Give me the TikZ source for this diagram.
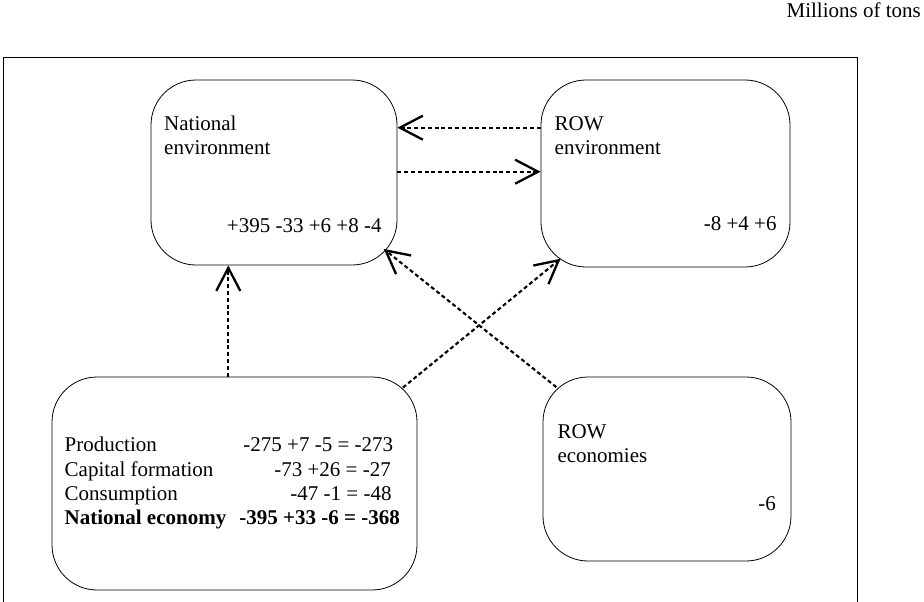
\documentclass[tikz,border=0pt]{standalone}
\usepackage{fontspec}
\setmainfont{Liberation Serif}
\usetikzlibrary{arrows.meta,calc}
\begin{document}
\begin{tikzpicture}[x=1pt,y=-1pt,
  box/.style={draw, line width=0.8pt, rounded corners=45pt, inner sep=0pt},
  lbl/.style={inner sep=0pt, font=\fontsize{21}{24}\selectfont},
  blbl/.style={lbl, font=\fontsize{21}{24}\selectfont\bfseries},
  flow/.style={line width=2.1pt, dash pattern=on 4pt off 2.8pt,
    -{Straight Barb[length=23pt,width=24pt,line width=2.3pt]}},
]
\useasboundingbox (0,0) rectangle (924,602);
\fill[white] (0,0) rectangle (924,602);

% unit caption and outer frame (open at the bottom)
\node[lbl, anchor=base east] (unit) at (921,18) {Millions of tons};
\draw[line width=0.9pt] (3.5,602) -- (3.5,57) -- (857.5,57) -- (857.5,602);

% the four sectors
\node[box, minimum width=246pt, minimum height=185pt] (nenv) at (274,172.5) {};
\node[box, minimum width=249pt, minimum height=187pt] (renv) at (665.5,173.5) {};
\node[box, minimum width=248pt, minimum height=184pt] (reco) at (667,469) {};
\node[box, minimum width=365pt, minimum height=213pt] (neco) at (234.5,483.5) {};

% national environment
\node[lbl, anchor=base west] (nenvA) at (164,130) {National};
\node[lbl, anchor=base west] (nenvB) at (164,154) {environment};
\node[lbl, anchor=base east] (nenvN) at (381.7,232) {+395 -33 +6 +8 -4};

% rest of the world environment
\node[lbl, anchor=base west] (renvA) at (554.5,130) {ROW};
\node[lbl, anchor=base west] (renvB) at (554.5,154.3) {environment};
\node[lbl, anchor=base east] (renvN) at (776.7,230) {-8 +4 +6};

% rest of the world economies
\node[lbl, anchor=base west] (recoA) at (557.3,438.3) {ROW};
\node[lbl, anchor=base west] (recoB) at (557.3,462.7) {economies};
\node[lbl, anchor=base east] (recoN) at (776,510) {-6};

% national economy table
\node[lbl, anchor=base west] (prodL) at (64.5,451.7) {Production};
\node[lbl, anchor=base east] (prodN) at (393.3,451.7) {-275 +7 -5 = -273};
\node[lbl, anchor=base west] (capL) at (64.5,476) {Capital formation};
\node[lbl, anchor=base east] (capN) at (391,476) {-73 +26 = -27};
\node[lbl, anchor=base west] (consL) at (64.5,500) {Consumption};
\node[lbl, anchor=base east] (consN) at (391.7,500) {-47 -1 = -48};
\node[blbl, anchor=base west] (totL) at (64.5,524.3) {National economy};
\node[blbl, anchor=base east] (totN) at (400,524.3) {-395 +33 -6 = -368};

% flows between sectors
\coordinate (h1) at ($(renv.west)+(0,-45.8)$);
\draw[flow] (h1) -- (nenv.east |- h1);
\coordinate (h2) at ($(nenv.east)+(0,-0.8)$);
\draw[flow] (h2) -- (renv.west |- h2);

\coordinate (v1) at ($(neco.north)+(-6.2,0)$);
\draw[flow] (v1) -- (v1 |- nenv.south);

\coordinate (d1s) at ($(reco.north west)+(13.7,10.5)$);
\coordinate (d1e) at ($(nenv.south east)+(-13.7,-16.5)$);
\draw[flow] (d1s) -- (d1e);

\coordinate (d2s) at ($(neco.north east)+(-14.5,11)$);
\coordinate (d2e) at ($(renv.south west)+(20,-8.7)$);
\draw[flow] (d2s) -- (d2e);
\end{tikzpicture}
\end{document}
